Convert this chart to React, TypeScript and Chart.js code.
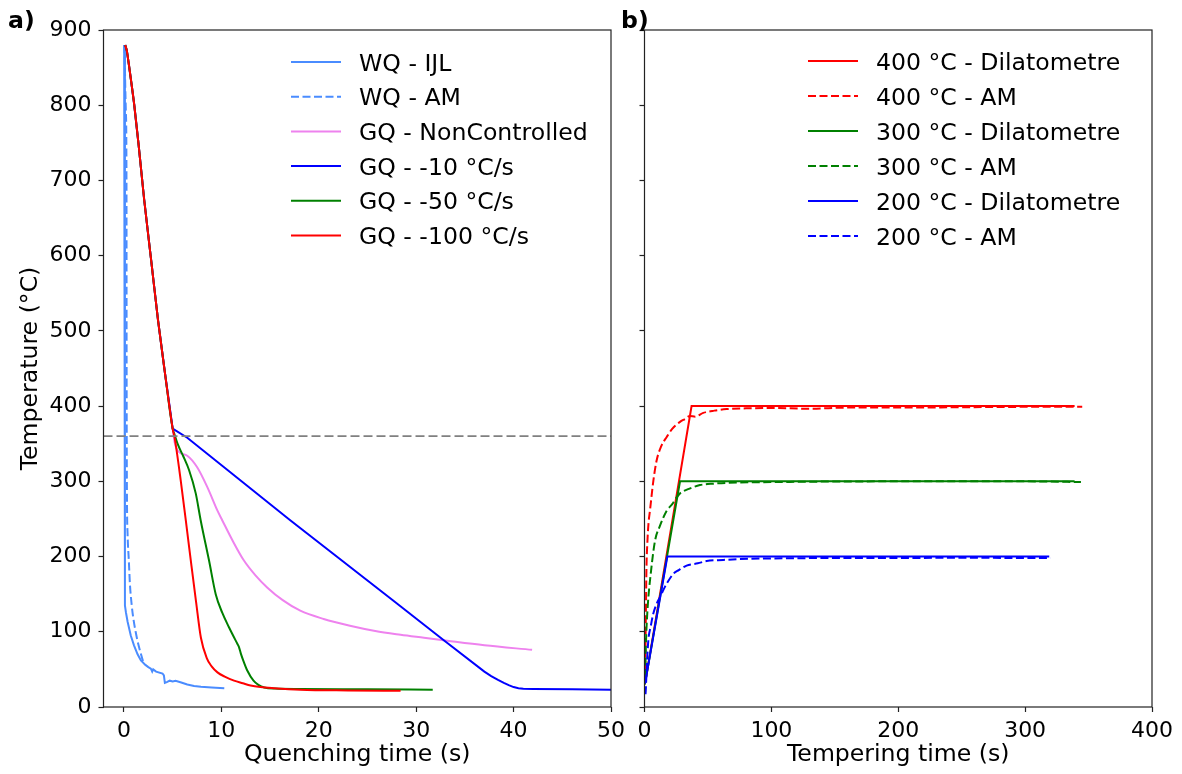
import React, { useEffect, useRef } from "react";
import { Chart, registerables } from "chart.js";

Chart.register(...registerables);

const FONT = "'DejaVu Sans', 'Liberation Sans', sans-serif";
const FS = 23.6; // labels and legend
const TFS = 22; // tick labels

// ---------- Panel a) : quenching ----------
const quenchTicks = [0, 10, 20, 30, 40, 50];
const tempTicks = [0, 100, 200, 300, 400, 500, 600, 700, 800, 900];
const thresholdTemp = 360;

const wqIjlTime = [0.02, 0.1, 0.2, 0.38, 0.7, 1.03, 1.4, 1.74, 2.2, 2.5, 2.76, 2.9, 3.0, 3.3, 3.96, 4.1, 4.2, 4.4, 4.7, 5.0, 5.3, 5.8, 6.5, 7.2, 7.9, 9.0, 10.3];
const wqIjlTemp = [880, 135, 126, 113, 95, 82, 70, 62, 56, 53, 51, 47, 50, 47, 44.5, 42, 32, 33, 35, 34, 35, 33, 30, 28, 27, 26, 25];

const wqAmTime = [0.05, 0.2, 0.26, 0.27, 0.3, 0.37, 0.5, 0.61, 0.8, 0.95, 1.2, 1.5, 1.75, 1.95];
const wqAmTemp = [880, 790, 700, 500, 300, 231, 195, 164, 135, 119, 100, 82, 70, 61];

const gqStartTime = [0.13, 0.3, 0.6, 1.05, 1.5, 2.08, 2.8, 3.5, 4.2, 5.0];
const gqStartTemp = [880, 872, 845, 801, 748, 674, 593, 514, 445, 370];

const gqFreeTime = [5.2, 5.5, 6.5, 7.5, 8.57, 9.6, 10.1, 11.2, 12.3, 13.5, 14.7, 16.3, 18.1, 20.5, 23.2, 25.8, 28.4, 30.8, 33.2, 37, 41.9];
const gqFreeTemp = [352, 341, 334, 319, 292, 261, 248, 220, 195, 175, 159, 142, 128, 117, 108, 101, 96, 92, 88, 82, 76];

const gq10Time = [6.5, 17.1, 27.6, 32.9, 37.0, 37.7, 38.4, 39.0, 39.5, 40.0, 40.5, 41.0, 42, 46, 50];
const gq10Temp = [358, 248, 142, 88, 47, 41, 36, 32, 29, 26.5, 25, 24.3, 24, 23.5, 23];

const gq50Time = [5.2, 5.5, 6.1, 6.68, 7.37, 7.88, 8.73, 9.42, 10.1, 10.78, 11.64, 11.8, 12.0, 12.3, 12.66, 13.3, 13.8, 14.4, 15.5, 18.1, 25, 31.7];
const gq50Temp = [362, 350, 333, 315, 284, 248, 195, 150, 125, 106, 84, 80, 71, 60, 48.5, 35, 29.5, 26, 24.5, 24, 23.5, 23];

const gq100Time = [5.2, 5.83, 6.35, 6.86, 7.4, 7.9, 8.5, 9.0, 9.6, 10.4, 11.3, 12.2, 13, 14, 15.4, 18.1, 23, 28.4];
const gq100Temp = [358, 301, 248, 195, 140, 92, 65, 54, 46, 40, 35, 31.5, 28.5, 26.5, 25, 23, 22, 21.5];

// ---------- Panel b) : tempering ----------
const temperTicks = [0, 100, 200, 300, 400];

const dil400Time = [0.3, 37.1, 339];
const dil400Temp = [30, 400, 400];
const am400Time = [0.5, 1.0, 1.5, 2.3, 3.2, 4.3, 7.0, 9.6, 13, 17.5, 22, 28, 32, 35.8, 40, 46.3, 55, 64.7, 80, 100, 130, 160, 200, 250, 300, 345];
const am400Temp = [35, 110, 180, 220, 245, 261, 301, 328, 346, 359, 370, 379, 383, 387, 386, 391, 394, 396, 397, 397.5, 396.5, 398, 398, 398.5, 399, 399];

const dil300Time = [0.3, 28, 339];
const dil300Temp = [30, 300, 300];
const am300Time = [0.5, 1.2, 2.5, 4.9, 8.3, 12, 17.5, 22, 25, 28, 35, 43.7, 55, 64.7, 100, 200, 300, 344];
const am300Temp = [40, 88, 133, 177, 221, 240, 261, 270, 278, 284, 290, 295, 297, 298, 299, 300, 300, 299];

const dil200Time = [0.4, 18, 319];
const dil200Temp = [31, 200, 200];
const am200Time = [0.8, 1.0, 1.7, 3.0, 5.0, 6.9, 9.5, 12.2, 15, 17.5, 22.7, 27, 33.2, 42, 49, 62, 75, 100, 150, 200, 250, 300, 320];
const am200Temp = [17, 22, 50, 88, 108, 124, 137, 146, 156, 164, 177, 182, 188, 191, 194, 195.5, 196.6, 197.5, 198, 198, 198.5, 198, 198];

const leftLabels = ["WQ - IJL", "WQ - AM", "GQ - NonControlled", "GQ - -10 °C/s", "GQ - -50 °C/s", "GQ - -100 °C/s"];
const rightLabels = ["400 °C - Dilatometre", "400 °C - AM", "300 °C - Dilatometre", "300 °C - AM", "200 °C - Dilatometre", "200 °C - AM"];

const C_LIGHT = "#4a8cff";
const C_VIOLET = "#ee82ee";
const C_BLUE = "#0000ff";
const C_GREEN = "#008000";
const C_RED = "#ff0000";
const DASH = [8, 3.5];

const pts = (xs: number[], ys: number[]) => xs.map((x, i) => ({ x, y: ys[i] }));

type LegendItem = { label: string; color: string; dash: number[] };

function overlayPlugin(cfg: {
  items: LegendItem[];
  lineX1: number;
  lineX2: number;
  textX: number;
  rowY0: number;
  rowStep: number;
  tag: string;
  tagX: number;
}) {
  return {
    id: "overlay_" + cfg.tag.replace(")", ""),
    afterDatasetsDraw(chart: any) {
      const ctx = chart.ctx as CanvasRenderingContext2D;
      const { left, top, right, bottom } = chart.chartArea;
      ctx.save();
      ctx.setLineDash([]);
      ctx.strokeStyle = "#222";
      ctx.lineWidth = 1.2;
      ctx.strokeRect(left, top, right - left, bottom - top);
      cfg.items.forEach((it, i) => {
        const y = cfg.rowY0 + i * cfg.rowStep;
        ctx.beginPath();
        ctx.setLineDash(it.dash);
        ctx.strokeStyle = it.color;
        ctx.lineWidth = 2;
        ctx.moveTo(cfg.lineX1, y);
        ctx.lineTo(cfg.lineX2, y);
        ctx.stroke();
        ctx.setLineDash([]);
        ctx.fillStyle = "#000";
        ctx.font = `${FS}px ${FONT}`;
        ctx.textBaseline = "alphabetic";
        ctx.textAlign = "left";
        ctx.fillText(it.label, cfg.textX, y + 8.5);
      });
      ctx.font = `bold ${FS}px ${FONT}`;
      ctx.fillStyle = "#000";
      ctx.textBaseline = "alphabetic";
      ctx.fillText(cfg.tag, cfg.tagX, 28);
      ctx.restore();
    },
  };
}

function line(label: string, data: any[], color: string, dashed: boolean, order: number, smooth = true) {
  return {
    label,
    data,
    borderColor: color,
    backgroundColor: color,
    borderWidth: 2,
    borderDash: dashed ? DASH : [],
    pointRadius: 0,
    tension: 0,
    cubicInterpolationMode: smooth ? "monotone" : "default",
    fill: false,
    order,
  };
}

function tickFixer(values: number[]) {
  return (scale: any) => {
    scale.ticks = values.map((v) => ({ value: v }));
  };
}

function baseScales(opts: {
  xMin: number;
  xMax: number;
  xTicks: number[];
  xTitle: string;
  yWidth: number;
  showYLabels: boolean;
}) {
  return {
    x: {
      type: "linear",
      min: opts.xMin,
      max: opts.xMax,
      afterBuildTicks: tickFixer(opts.xTicks),
      afterFit: (s: any) => {
        s.height = 67;
      },
      border: { display: false },
      grid: { drawOnChartArea: false, drawTicks: true, tickLength: 5, tickColor: "#222", tickWidth: 1.2 },
      ticks: { color: "#000", font: { family: FONT, size: TFS }, padding: 6, maxRotation: 0, autoSkip: false },
      title: {
        display: true,
        text: opts.xTitle,
        color: "#000",
        font: { family: FONT, size: FS },
        padding: { top: 0, bottom: 5 },
      },
    },
    y: {
      type: "linear",
      min: 0,
      max: 900,
      afterBuildTicks: tickFixer(tempTicks),
      afterFit: (s: any) => {
        s.width = opts.yWidth;
      },
      border: { display: false },
      grid: { drawOnChartArea: false, drawTicks: true, tickLength: 5, tickColor: "#222", tickWidth: 1.2 },
      ticks: { display: opts.showYLabels, color: "#000", font: { family: FONT, size: TFS }, padding: 7, autoSkip: false },
      title: {
        display: opts.showYLabels,
        text: "Temperature (°C)",
        color: "#000",
        font: { family: FONT, size: FS },
        padding: { top: 17, bottom: 0 },
      },
    },
  };
}

function LeftChart() {
  const ref = useRef<HTMLCanvasElement>(null);
  useEffect(() => {
    const gqFree = pts(gqStartTime.concat(gqFreeTime), gqStartTemp.concat(gqFreeTemp));
    const gq10 = pts(gqStartTime.concat(gq10Time), gqStartTemp.concat(gq10Temp));
    const gq50 = pts(gqStartTime.concat(gq50Time), gqStartTemp.concat(gq50Temp));
    const gq100 = pts(gqStartTime.concat(gq100Time), gqStartTemp.concat(gq100Temp));
    const xMin = -2.1;
    const xMax = 50;
    const chart = new Chart(ref.current as HTMLCanvasElement, {
      type: "line",
      data: {
        datasets: [
          line(leftLabels[0], pts(wqIjlTime, wqIjlTemp), C_LIGHT, false, 6, false),
          line(leftLabels[1], pts(wqAmTime, wqAmTemp), C_LIGHT, true, 5),
          line(leftLabels[2], gqFree, C_VIOLET, false, 4),
          line(leftLabels[3], gq10, C_BLUE, false, 3, false),
          line(leftLabels[4], gq50, C_GREEN, false, 2),
          line(leftLabels[5], gq100, C_RED, false, 1),
          {
            ...line("threshold", pts([xMin, xMax], [thresholdTemp, thresholdTemp]), "#808080", true, 0, false),
            borderDash: [9, 4],
            borderWidth: 1.8,
          },
        ] as any,
      },
      options: {
        responsive: false,
        maintainAspectRatio: false,
        animation: false,
        events: [],
        layout: { padding: { left: 0, top: 30, right: 29, bottom: 0 } },
        plugins: { legend: { display: false }, tooltip: { enabled: false } },
        scales: baseScales({ xMin, xMax, xTicks: quenchTicks, xTitle: "Quenching time (s)", yWidth: 103.5, showYLabels: true }) as any,
      },
      plugins: [
        overlayPlugin({
          items: [
            { label: leftLabels[0], color: C_LIGHT, dash: [] },
            { label: leftLabels[1], color: C_LIGHT, dash: DASH },
            { label: leftLabels[2], color: C_VIOLET, dash: [] },
            { label: leftLabels[3], color: C_BLUE, dash: [] },
            { label: leftLabels[4], color: C_GREEN, dash: [] },
            { label: leftLabels[5], color: C_RED, dash: [] },
          ],
          lineX1: 291,
          lineX2: 341,
          textX: 359,
          rowY0: 62,
          rowStep: 34.7,
          tag: "a)",
          tagX: 8,
        }),
      ],
    });
    return () => chart.destroy();
  }, []);
  return (
    <canvas
      ref={ref}
      width={640}
      height={774}
      style={{ position: "absolute", left: 0, top: 0, width: 640, height: 774 }}
    />
  );
}

function RightChart() {
  const ref = useRef<HTMLCanvasElement>(null);
  const offset = 615;
  useEffect(() => {
    const chart = new Chart(ref.current as HTMLCanvasElement, {
      type: "line",
      data: {
        datasets: [
          line(rightLabels[0], pts(dil400Time, dil400Temp), C_RED, false, 6, false),
          line(rightLabels[1], pts(am400Time, am400Temp), C_RED, true, 5),
          line(rightLabels[2], pts(dil300Time, dil300Temp), C_GREEN, false, 4, false),
          line(rightLabels[3], pts(am300Time, am300Temp), C_GREEN, true, 3),
          line(rightLabels[4], pts(dil200Time, dil200Temp), C_BLUE, false, 2, false),
          line(rightLabels[5], pts(am200Time, am200Temp), C_BLUE, true, 1),
        ] as any,
      },
      options: {
        responsive: false,
        maintainAspectRatio: false,
        animation: false,
        events: [],
        layout: { padding: { left: 0, top: 30, right: 30, bottom: 0 } },
        plugins: { legend: { display: false }, tooltip: { enabled: false } },
        scales: baseScales({ xMin: 0, xMax: 400, xTicks: temperTicks, xTitle: "Tempering time (s)", yWidth: 29.5, showYLabels: false }) as any,
      },
      plugins: [
        overlayPlugin({
          items: [
            { label: rightLabels[0], color: C_RED, dash: [] },
            { label: rightLabels[1], color: C_RED, dash: DASH },
            { label: rightLabels[2], color: C_GREEN, dash: [] },
            { label: rightLabels[3], color: C_GREEN, dash: DASH },
            { label: rightLabels[4], color: C_BLUE, dash: [] },
            { label: rightLabels[5], color: C_BLUE, dash: DASH },
          ],
          lineX1: 808 - offset,
          lineX2: 858 - offset,
          textX: 876 - offset,
          rowY0: 61,
          rowStep: 35,
          tag: "b)",
          tagX: 621 - offset,
        }),
      ],
    });
    return () => chart.destroy();
  }, []);
  return (
    <canvas
      ref={ref}
      width={567}
      height={774}
      style={{ position: "absolute", left: offset, top: 0, width: 567, height: 774 }}
    />
  );
}

export default function App() {
  return (
    <div style={{ position: "absolute", left: 0, top: 0, width: 1182, height: 774, background: "#fff", overflow: "hidden" }}>
      <LeftChart />
      <RightChart />
    </div>
  );
}
